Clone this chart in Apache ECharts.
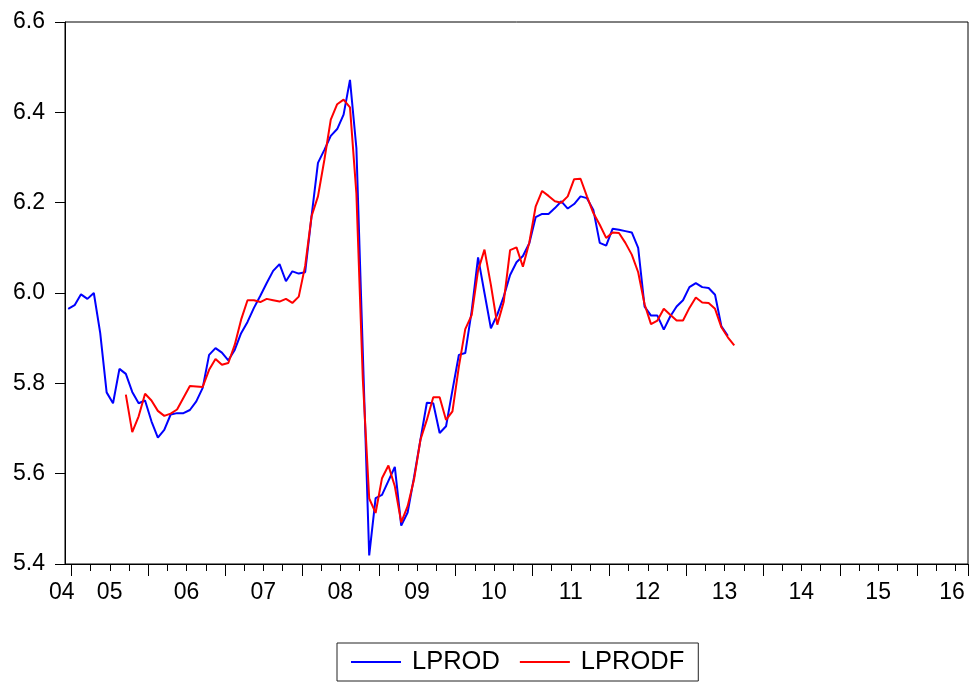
<!DOCTYPE html>
<html>
<head>
<meta charset="utf-8">
<script src="https://cdn.jsdelivr.net/npm/echarts@6/dist/echarts.min.js"></script>
<style>
html,body{margin:0;padding:0;background:#fff;}
#c{width:969px;height:683px;}
</style>
</head>
<body>
<div id="c"></div>
<script>
// Monthly axis: Dec 2004 .. Aug 2016
const startYear = 2004, startMonth = 12, nMonths = 141;
const yearLabels = ['04','05','06','07','08','09','10','11','12','13','14','15','16'];
const yTicks = [5.4, 5.6, 5.8, 6.0, 6.2, 6.4, 6.6];

// LPROD from Dec 2004 (index 0)
const lprodStart = 0;
const lprod = [
5.965,5.973,5.997,5.987,6.000,5.911,5.780,5.756,5.832,5.821,5.781,5.756,
5.762,5.716,5.680,5.697,5.731,5.734,5.734,5.741,5.760,5.790,5.863,5.878,
5.868,5.851,5.874,5.911,5.936,5.967,5.994,6.022,6.049,6.064,6.026,6.048,
6.043,6.046,6.170,6.288,6.317,6.348,6.363,6.395,6.472,6.321,5.870,5.419,
5.546,5.553,5.584,5.615,5.485,5.514,5.592,5.675,5.757,5.756,5.690,5.705,
5.785,5.863,5.867,5.960,6.079,6.000,5.922,5.952,5.992,6.040,6.068,6.082,
6.110,6.168,6.175,6.175,6.188,6.203,6.187,6.197,6.214,6.210,6.184,6.111,
6.105,6.142,6.140,6.137,6.134,6.100,5.970,5.950,5.950,5.919,5.948,5.970,
5.984,6.013,6.022,6.013,6.011,5.996,5.926,5.905
];
// LPRODF from Sep 2005 (index 9)
const lprodfStart = 9;
const lprodf = [
5.775,5.692,5.727,
5.777,5.762,5.739,5.728,5.733,5.742,5.768,5.794,5.793,5.792,5.830,5.854,
5.841,5.845,5.885,5.941,5.984,5.984,5.980,5.987,5.984,5.981,5.987,5.978,
5.992,6.060,6.170,6.214,6.295,6.384,6.418,6.428,6.411,6.220,5.810,5.545,
5.513,5.590,5.618,5.572,5.492,5.528,5.587,5.675,5.719,5.769,5.769,5.719,
5.738,5.837,5.920,5.951,6.050,6.096,6.018,5.930,5.980,6.095,6.101,6.058,
6.112,6.192,6.226,6.215,6.203,6.200,6.214,6.252,6.253,6.214,6.177,6.151,
6.122,6.134,6.133,6.111,6.085,6.046,5.975,5.931,5.939,5.965,5.952,5.939,
5.939,5.967,5.990,5.979,5.978,5.965,5.924,5.902,5.884
];

const categories = [];
for (let i = 0; i < nMonths; i++) {
  const m0 = (startMonth - 1 + i);
  const y = startYear + Math.floor(m0 / 12);
  const m = (m0 % 12) + 1;
  categories.push(y + '-' + (m < 10 ? '0' + m : m));
}
function pad(arr, start) {
  const out = new Array(nMonths).fill(null);
  arr.forEach((v, i) => { out[start + i] = v; });
  return out;
}
// month-of-year (1..12) for category index
function monthOf(i) { return ((startMonth - 1 + i) % 12) + 1; }

const chart = echarts.init(document.getElementById('c'), null, {renderer: 'canvas'});
const font = 'Arial, "Liberation Sans", sans-serif';
chart.setOption({
  animation: false,
  backgroundColor: '#fff',
  grid: {left: 65, top: 22, width: 903, height: 542, show: true, borderColor: '#000', borderWidth: 1, backgroundColor: 'transparent', containLabel: false},
  legend: {
    left: 337, top: 643,
    padding: [6, 14, 6, 14],
    borderColor: '#222', borderWidth: 1,
    itemGap: 20, itemWidth: 50, itemHeight: 2,
    icon: 'rect',
    formatter: name => '{a|' + name + '}',
    textStyle: {color: '#000', fontFamily: font, fontSize: 25.5,
      rich: {a: {fontSize: 25.5, fontFamily: font, color: '#000', padding: [0, 0, 0, 6]}}},
    data: ['LPROD', 'LPRODF']
  },
  xAxis: [{
    type: 'category', data: categories, boundaryGap: true, position: 'bottom',
    axisLine: {show: true, lineStyle: {color: '#000', width: 1}},
    axisTick: {show: true, length: 7, lineStyle: {color: '#000'},
      interval: (i) => (monthOf(i) - 1) % 3 === 0},
    axisLabel: {
      show: true, color: '#000', fontFamily: font, fontSize: 23, margin: 17,
      interval: (i) => i === 0 || monthOf(i) === 6,
      formatter: (v, i) => {
        if (i === 0) return '{f|' + yearLabels[0] + '}';
        const yr = startYear + Math.floor((startMonth - 1 + i) / 12);
        const lab = yearLabels[yr - startYear];
        if (yr === 2016) return '{l|' + lab + '}';
        return '{m|' + lab + '}';
      },
      rich: {
        f: {fontSize: 23, fontFamily: font, color: '#000', padding: [0, 13, 0, 0]},
        m: {fontSize: 23, fontFamily: font, color: '#000', padding: [0, 0, 0, 6]},
        l: {fontSize: 23, fontFamily: font, color: '#000', padding: [0, 0, 0, 0]}
      }
    },
    splitLine: {show: false}
  }, {
    type: 'category', data: categories, boundaryGap: true, position: 'bottom', gridIndex: 0,
    axisLine: {show: false},
    axisTick: {show: true, length: 12, lineStyle: {color: '#000'},
      interval: (i) => monthOf(i) === 1},
    axisLabel: {show: false},
    splitLine: {show: false}
  }],
  yAxis: {
    type: 'value', min: yTicks[0], max: yTicks[yTicks.length - 1], interval: 0.2,
    axisLine: {show: true, lineStyle: {color: '#000', width: 1}},
    axisTick: {show: true, length: 10, lineStyle: {color: '#000'}},
    axisLabel: {color: '#000', fontFamily: font, fontSize: 23, margin: 20,
      formatter: v => v.toFixed(1)},
    splitLine: {show: false}
  },
  series: [{
    name: 'LPROD', type: 'line', xAxisIndex: 0, data: pad(lprod, lprodStart),
    showSymbol: false, symbol: 'none', connectNulls: false,
    lineStyle: {color: '#0000ff', width: 2}, itemStyle: {color: '#0000ff'}
  }, {
    name: 'LPRODF', type: 'line', xAxisIndex: 0, data: pad(lprodf, lprodfStart),
    showSymbol: false, symbol: 'none', connectNulls: false,
    lineStyle: {color: '#ff0000', width: 2}, itemStyle: {color: '#ff0000'}
  }]
});
</script>
</body>
</html>
